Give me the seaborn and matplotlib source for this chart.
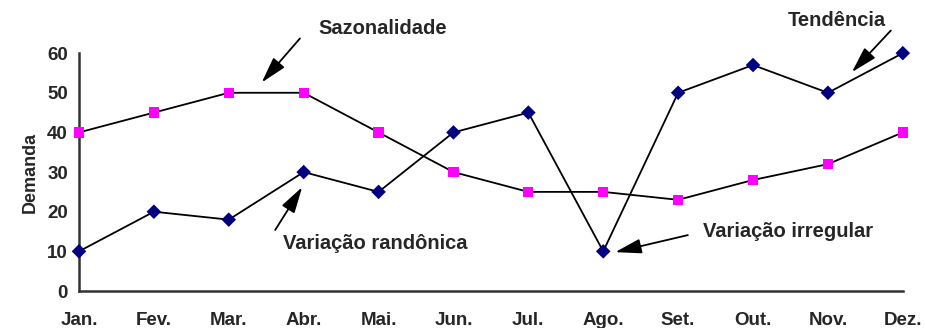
import matplotlib
matplotlib.use("Agg")
import matplotlib.pyplot as plt
import numpy as np
import pandas as pd
import seaborn as sns

meses = ['Jan.', 'Fev.', 'Mar.', 'Abr.', 'Mai.', 'Jun.', 'Jul.', 'Ago.', 'Set.', 'Out.', 'Nov.', 'Dez.']
tendencia = [10, 20, 18, 30, 25, 40, 45, 10, 50, 57, 50, 60]
sazonalidade = [40, 45, 50, 50, 40, 30, 25, 25, 23, 28, 32, 40]

sns.set_style('white')
plt.rcParams['font.family'] = ['Liberation Sans', 'DejaVu Sans']
plt.rcParams['font.weight'] = 'bold'

df = pd.DataFrame({'pos': np.arange(len(meses)), 'mes': meses,
                   'tendencia': tendencia, 'sazonalidade': sazonalidade})

fig = plt.figure(figsize=(9.25, 3.28), dpi=100)
ax = fig.add_axes([0.0854, 0.1128, 0.8906, 0.7252])

sns.lineplot(data=df, x='pos', y='sazonalidade', color='black', lw=1.3, ax=ax)
sns.lineplot(data=df, x='pos', y='tendencia', color='black', lw=1.3, ax=ax)
sns.scatterplot(data=df, x='pos', y='sazonalidade', marker='s', color='#FF00FF',
                s=55, edgecolor='none', zorder=3, ax=ax, clip_on=False)
sns.scatterplot(data=df, x='pos', y='tendencia', marker='D', color='#000080',
                s=55, edgecolor='none', zorder=3, ax=ax, clip_on=False)

ax.set_xlim(0, 11)
ax.set_ylim(0, 60)
ax.set_yticks(range(0, 61, 10))
ax.set_xticks(df['pos'])
ax.set_xticklabels(meses)
ax.set_xlabel('')
ax.set_ylabel('Demanda', fontsize=13, fontweight='bold', labelpad=6)
ax.tick_params(axis='both', direction='out', length=3, width=1, color='#333333',
               labelsize=13.5, pad=5)
ax.tick_params(axis='x', pad=12)
for lbl in ax.get_xticklabels() + ax.get_yticklabels():
    lbl.set_fontweight('bold')

sns.despine(ax=ax)
for s in ['left', 'bottom']:
    ax.spines[s].set_color('#333333')
    ax.spines[s].set_linewidth(1.8)

arrow = dict(arrowstyle='-|>,head_length=1.6,head_width=0.45', color='black',
             lw=1.3, shrinkA=0, shrinkB=0)
fs = 14.5

ax.annotate('', xy=(2.44, 52.6), xytext=(2.95, 63.7), arrowprops=arrow, annotation_clip=False)
ax.text(4.06, 66.2, 'Sazonalidade', fontsize=fs, fontweight='bold', ha='center', va='center')

ax.annotate('', xy=(10.32, 55.2), xytext=(10.84, 65.7), arrowprops=arrow, annotation_clip=False)
ax.text(10.12, 68.3, 'Tendência', fontsize=fs, fontweight='bold', ha='center', va='center')

ax.annotate('', xy=(2.98, 26.2), xytext=(2.62, 15.4), arrowprops=arrow, annotation_clip=False)
ax.text(3.95, 12.1, 'Variação randônica', fontsize=fs, fontweight='bold', ha='center', va='center')

ax.annotate('', xy=(7.16, 9.8), xytext=(8.13, 14.1), arrowprops=arrow, annotation_clip=False)
ax.text(9.47, 14.9, 'Variação irregular', fontsize=fs, fontweight='bold', ha='center', va='center')

fig.savefig('out.png', dpi=100)
